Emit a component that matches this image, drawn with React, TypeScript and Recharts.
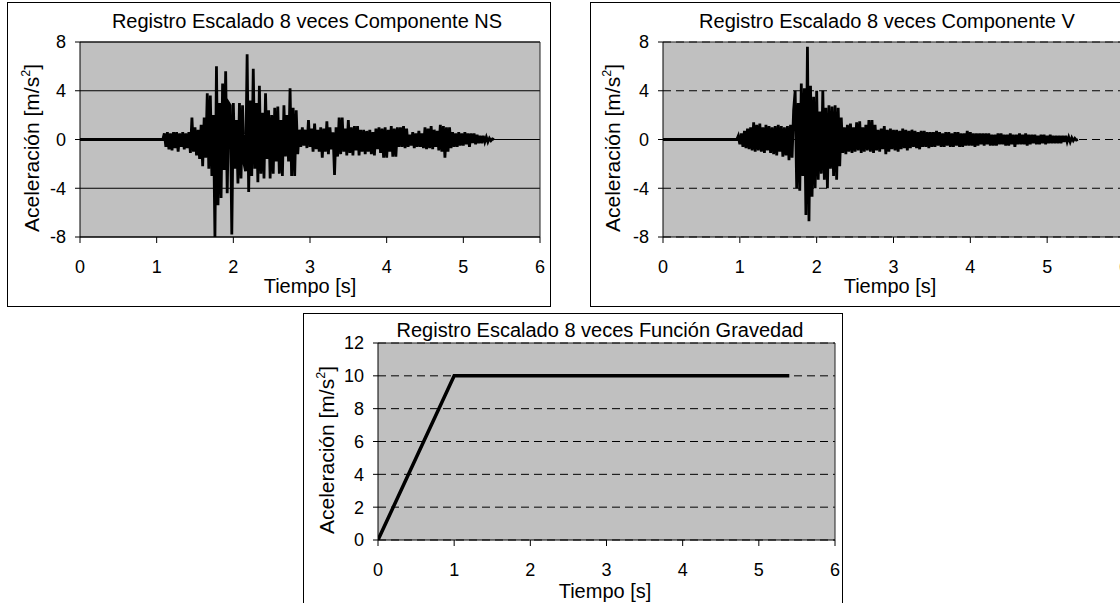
import React from 'react';
import { LineChart, Line, XAxis, YAxis, CartesianGrid, ReferenceLine } from 'recharts';

// time axis shared by the three records
const X_TICKS = [0, 1, 2, 3, 4, 5, 6];
const ACC_TICKS = [-8, -4, 0, 4, 8];
const GRAV_TICKS = [0, 2, 4, 6, 8, 10, 12];

const DT = 0.02;

// Componente NS, first sample at 1.08 s
const NS_START = 1.08;
const NS_VALUES = [
  0,
  0.5, -0.6, 0.6, -0.8, 0.5,
  -0.9, 0.6, -0.7, 0.6, -1.0,
  0.5, -0.6, 0.6, -0.8, 0.5,
  -0.7, 0.6, -1.1, 1.8, -1.0,
  1.0, -1.3, 0.8, -1.6, 1.2,
  -2.2, 1.8, -1.5, 3.8, -2.4,
  3.6, -3.0, 2.0, -8.0, 6.0,
  -5.4, 3.0, -4.8, 4.6, -2.5,
  5.6, -4.4, 3.0, 2.8, -7.8,
  3.0, -2.4, 1.6, -3.6, 3.0,
  -3.2, 2.8, -2.0, -2.6, 7.0,
  -4.3, 3.2, -3.0, 5.8, -2.4,
  3.0, -3.5, 4.4, -2.8, 2.2,
  -3.2, 3.8, -1.6, 2.4, -3.2,
  2.0, -2.8, 2.6, -1.8, 2.7,
  -2.8, 1.6, -3.0, 2.8, -1.4,
  2.0, -1.8, 4.2, -3.0, 2.6,
  -3.0, 2.4, -1.2, 0.8, -0.6,
  1.0, -0.5, 0.8, -0.7, 1.6,
  -0.6, 0.9, -1.0, 1.3, -0.8,
  0.8, -1.0, 1.0, -1.5, 0.9,
  -1.0, 1.5, -1.2, 1.0, -0.8,
  0.6, -2.9, 1.0, -1.4, 1.8,
  -1.2, 1.8, -1.0, 0.9, -1.3,
  1.6, -1.1, 1.0, -1.3, 1.1,
  -0.9, 1.1, -1.3, 0.8, -1.0,
  0.8, -1.2, 0.7, -1.0, 0.8,
  -1.2, 0.6, -1.3, 0.9, -0.8,
  1.0, -1.1, 0.9, -1.5, 1.0,
  -1.5, 0.8, -1.0, 1.1, -1.4,
  0.9, -1.4, 1.0, -0.6, 1.0,
  -0.6, 1.1, -0.7, 0.9, -0.6,
  0.4, -0.5, 0.6, -0.7, 0.5,
  -0.6, 0.7, -0.6, 0.5, -0.7,
  1.0, -0.8, 0.9, -0.7, 1.1,
  -0.8, 0.8, -0.6, 0.7, -0.9,
  1.2, -1.0, 1.1, -1.5, 1.0,
  -1.0, 1.0, -0.7, 0.6, -0.6,
  0.5, -0.6, 0.6, -0.5, 0.5,
  -0.5, 0.6, -0.4, 0.5, -0.6,
  0.5, -0.3, 0.5, -0.4, 0.4,
  -0.3, 0.3, -0.3, 0.3, -0.2,
  0.2, -0.2, 0.1, -0.1, 0.05,
  0,
];

// Componente V, first sample at 0.96 s
const V_START = 0.96;
const V_VALUES = [
  0, 0.3,
  -0.4, 0.5, -0.6, 0.7, -0.7,
  0.9, -0.8, 1.0, -0.9, 1.4,
  -1.0, 1.2, -0.9, 1.3, -1.0,
  1.0, -1.1, 1.2, -0.9, 1.1,
  -1.1, 1.0, -1.2, 1.1, -1.3,
  1.2, -1.0, 1.1, -1.4, 1.0,
  -1.3, 1.1, -1.7, 1.2, -1.5,
  2.4, 4.0, -4.0, 3.0, -4.2,
  4.6, -3.0, 4.2, -6.2, 7.6,
  -6.7, 4.4, -4.7, 3.5, -4.0,
  4.0, -3.3, 2.3, -2.8, 4.0,
  -3.3, 2.6, -4.0, 2.8, -2.4,
  2.7, -3.0, 2.8, -3.3, 2.6,
  -2.2, 1.8, -1.1, 1.0, -1.2,
  1.2, -1.0, 1.3, -1.1, 1.0,
  -1.0, 1.4, -0.9, 1.5, -1.1,
  1.0, -1.0, 1.2, -0.9, 1.6,
  -1.0, 1.6, -1.1, 1.2, -0.9,
  0.8, -1.0, 0.9, -0.8, 1.1,
  -1.2, 0.8, -1.0, 0.9, -0.8,
  0.8, -0.9, 0.8, -1.0, 0.7,
  -0.8, 0.9, -0.7, 0.8, -0.9,
  0.7, -0.7, 0.8, -0.6, 0.7,
  -0.7, 0.6, -0.8, 0.7, -0.6,
  0.7, -0.6, 0.6, -0.7, 0.6,
  -0.6, 0.6, -0.6, 0.7, -0.5,
  0.6, -0.6, 0.5, -0.6, 0.6,
  -0.5, 0.6, -0.6, 0.5, -0.6,
  0.6, -0.5, 0.6, -0.6, 0.5,
  -0.6, 0.5, -0.5, 0.7, -0.5,
  0.6, -0.5, 0.5, -0.6, 0.5,
  -0.5, 0.5, -0.4, 0.5, -0.5,
  0.5, -0.4, 0.5, -0.5, 0.4,
  -0.5, 0.4, -0.5, 0.5, -0.4,
  0.5, -0.4, 0.4, -0.5, 0.4,
  -0.5, 0.5, -0.4, 0.4, -0.6,
  0.4, -0.4, 0.5, -0.4, 0.4,
  -0.4, 0.5, -0.5, 0.4, -0.4,
  0.4, -0.3, 0.4, -0.4, 0.3,
  -0.4, 0.4, -0.3, 0.4, -0.4,
  0.3, -0.3, 0.4, -0.3, 0.3,
  -0.3, 0.3, -0.3, 0.3, -0.3,
  0.3, -0.2, 0.3, -0.2, 0.2,
  -0.2, 0.15, -0.1, 0.1, -0.05,
  0,
];

// Función Gravedad
const GRAV_TIME = [0, 1, 5.4];
const GRAV_ACC = [0, 10, 10];

const FONT = "'Liberation Sans', Arial, sans-serif";

function sampled(start: number, values: number[]) {
  return [{ t: 0, a: 0 }, ...values.map((a, i) => ({ t: +(start + i * DT).toFixed(3), a }))];
}

const nsData = sampled(NS_START, NS_VALUES);
const vData = sampled(V_START, V_VALUES);
const gravData = GRAV_TIME.map((t, i) => ({ t, a: GRAV_ACC[i] }));

type PanelProps = {
  left: number;
  top: number;
  width: number;
  height: number;
  mTop: number;
  mRight: number;
  yw: number;
  xh: number;
  data: { t: number; a: number }[];
  yTicks: number[];
  dashed: boolean;
  lineWidth: number;
};

function Panel({ left, top, width, height, mTop, mRight, yw, xh, data, yTicks, dashed, lineWidth }: PanelProps) {
  const yMin = yTicks[0];
  const yMax = yTicks[yTicks.length - 1];
  const tick = { fill: '#000', fontSize: 18, fontFamily: FONT };
  return (
    <div style={{ position: 'absolute', left, top }}>
      <LineChart width={width} height={height} data={data} margin={{ top: mTop, right: mRight, left: 0, bottom: 0 }}>
        <CartesianGrid
          vertical={false}
          stroke="#000"
          strokeWidth={1}
          strokeDasharray={dashed ? '8 5' : undefined}
          fill="#c0c0c0"
          fillOpacity={1}
        />
        <XAxis
          dataKey="t"
          type="number"
          domain={[0, 6]}
          ticks={X_TICKS}
          allowDataOverflow
          height={xh}
          tick={tick}
          tickSize={6}
          tickMargin={17}
          axisLine={{ stroke: '#000' }}
          tickLine={{ stroke: '#000' }}
        />
        <YAxis
          type="number"
          domain={[yMin, yMax]}
          ticks={yTicks}
          allowDataOverflow
          width={yw}
          tick={tick}
          tickSize={5}
          tickMargin={9}
          axisLine={{ stroke: '#000' }}
          tickLine={{ stroke: '#000' }}
        />
        <ReferenceLine y={yMax} stroke="#222" />
        <ReferenceLine x={6} stroke="#222" />
        <Line
          type="linear"
          dataKey="a"
          stroke="#000"
          strokeWidth={lineWidth}
          strokeLinejoin="miter"
          dot={false}
          isAnimationActive={false}
        />
      </LineChart>
    </div>
  );
}

function Label({ x, y, text, size, rotate }: { x: number; y: number; text: React.ReactNode; size: number; rotate?: boolean }) {
  return (
    <div
      style={{
        position: 'absolute',
        left: x,
        top: y,
        transform: `translate(-50%, -50%)${rotate ? ' rotate(-90deg)' : ''}`,
        whiteSpace: 'nowrap',
        fontFamily: FONT,
        fontSize: size,
        lineHeight: 1,
        color: '#000',
      }}
    >
      {text}
    </div>
  );
}

const yLabel = (
  <span>
    Aceleración [m/s<sup style={{ fontSize: '0.6em', verticalAlign: '0.7em', lineHeight: 0 }}>2</sup>]
  </span>
);

const box = { position: 'absolute' as const, border: '1px solid #000', boxSizing: 'border-box' as const };

export default function App() {
  return (
    <div style={{ position: 'fixed', left: 0, top: 0, width: 1120, height: 603, overflow: 'hidden', background: '#fff' }}>
      {/* NS */}
      <div style={{ ...box, left: 7, top: 2, width: 544, height: 305 }} />
      <Panel left={7} top={2} width={543} height={304} mTop={40} mRight={10} yw={73} xh={69}
        data={nsData} yTicks={ACC_TICKS} dashed={false} lineWidth={2.8} />
      <Label x={307} y={21} size={20} text="Registro Escalado 8 veces Componente NS" />
      <Label x={31} y={148} size={21} rotate text={yLabel} />
      <Label x={310} y={286} size={20} text="Tiempo [s]" />

      {/* V */}
      <div style={{ ...box, left: 590, top: 2, width: 600, height: 305 }} />
      <Panel left={590} top={2} width={541} height={304} mTop={40} mRight={7} yw={73} xh={69}
        data={vData} yTicks={ACC_TICKS} dashed lineWidth={2.8} />
      <Label x={887} y={21} size={20} text="Registro Escalado 8 veces Componente V" />
      <Label x={612} y={148} size={21} rotate text={yLabel} />
      <Label x={890} y={286} size={20} text="Tiempo [s]" />

      {/* Gravedad */}
      <div style={{ ...box, left: 303, top: 313, width: 540, height: 400 }} />
      <Panel left={303} top={313} width={539} height={290} mTop={30} mRight={7} yw={75} xh={63}
        data={gravData} yTicks={GRAV_TICKS} dashed lineWidth={3.5} />
      <Label x={600} y={330} size={20} text="Registro Escalado 8 veces Función Gravedad" />
      <Label x={326} y={450} size={21} rotate text={yLabel} />
      <Label x={605} y={591} size={20} text="Tiempo [s]" />
    </div>
  );
}
